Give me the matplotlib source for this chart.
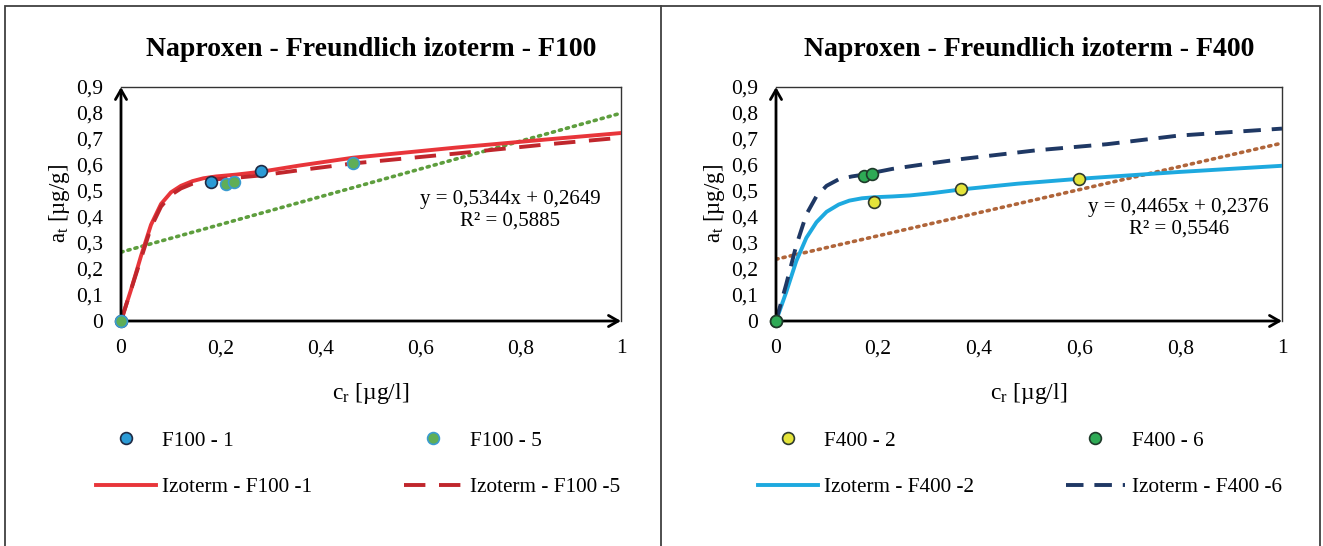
import numpy as np
import matplotlib
matplotlib.use("Agg")
import matplotlib.pyplot as plt
from matplotlib.lines import Line2D
from matplotlib.patches import Rectangle
from matplotlib.ticker import FuncFormatter

plt.rcParams['font.family'] = ['Liberation Serif', 'DejaVu Serif']
plt.rcParams['mathtext.fontset'] = 'custom'
plt.rcParams['mathtext.rm'] = 'Liberation Serif'
plt.rcParams['mathtext.it'] = 'Liberation Serif:italic'

# ---- data ----
# F100 measured points
f100_1_x = [0.0, 0.18, 0.28]
f100_1_y = [0.0, 0.535, 0.578]
f100_5_x = [0.0, 0.21, 0.225, 0.463]
f100_5_y = [0.0, 0.528, 0.534, 0.607]

# F100 isotherm curves
iso100_1_x = [0.0, 0.02, 0.04, 0.06, 0.08, 0.1, 0.12, 0.143, 0.165, 0.19, 0.23, 0.28, 0.357, 0.464, 0.67, 0.85, 1.0]
iso100_1_y = [0.0, 0.12, 0.25, 0.37, 0.45, 0.495, 0.52, 0.538, 0.549, 0.556, 0.563, 0.574, 0.598, 0.628, 0.667, 0.698, 0.723]
iso100_5_x = [0.0, 0.02, 0.04, 0.06, 0.08, 0.1, 0.12, 0.143, 0.165, 0.19, 0.23, 0.28, 0.357, 0.464, 0.67, 0.85, 1.0]
iso100_5_y = [0.0, 0.12, 0.24, 0.36, 0.44, 0.485, 0.51, 0.528, 0.538, 0.545, 0.551, 0.560, 0.580, 0.606, 0.644, 0.679, 0.705]

# F400 measured points
f400_2_x = [0.0, 0.193, 0.366, 0.599]
f400_2_y = [0.0, 0.457, 0.506, 0.547]
f400_6_x = [0.0, 0.173, 0.189]
f400_6_y = [0.0, 0.556, 0.564]

# F400 isotherm curves
iso400_2_x = [0.0, 0.02, 0.04, 0.06, 0.08, 0.1, 0.124, 0.145, 0.17, 0.194, 0.23, 0.265, 0.31, 0.366, 0.477, 0.6, 0.795, 1.0]
iso400_2_y = [0.0, 0.11, 0.23, 0.32, 0.38, 0.42, 0.448, 0.463, 0.472, 0.476, 0.479, 0.483, 0.492, 0.506, 0.528, 0.547, 0.573, 0.597]
iso400_6_x = [0.0, 0.02, 0.04, 0.06, 0.08, 0.1, 0.124, 0.15, 0.173, 0.23, 0.3, 0.371, 0.512, 0.654, 0.795, 1.0]
iso400_6_y = [0.0, 0.14, 0.29, 0.41, 0.48, 0.52, 0.545, 0.556, 0.563, 0.585, 0.605, 0.624, 0.656, 0.68, 0.713, 0.74]

# linear trendlines (slope, intercept, R2)
trend100 = (0.5344, 0.2649, 0.5885)
trend400 = (0.4465, 0.2376, 0.5546)

x_ticks = [0, 0.2, 0.4, 0.6, 0.8, 1.0]
y_ticks = [0, 0.1, 0.2, 0.3, 0.4, 0.5, 0.6, 0.7, 0.8, 0.9]

W, H = 1323, 546
fig = plt.figure(figsize=(W / 100, H / 100), dpi=100)


def comma(v, pos):
    return ('%g' % round(v, 2)).replace('.', ',')


def eq_text(tr):
    a, b, r2 = (str(v).replace('.', ',') for v in tr)
    return 'y = %sx + %s\nR² = %s' % (a, b, r2)


def make_axes(left_px, right_px, title):
    ax = fig.add_axes([left_px / W, (H - 321) / H, (right_px - left_px) / W, (321 - 87) / H])
    ax.set_xlim(0, 1)
    ax.set_ylim(0, 0.9)
    ax.set_xticks(x_ticks)
    ax.set_yticks(y_ticks)
    ax.xaxis.set_major_formatter(FuncFormatter(comma))
    ax.yaxis.set_major_formatter(FuncFormatter(comma))
    ax.tick_params(length=0, labelsize=15.5)
    ax.tick_params(axis='x', pad=13)
    ax.tick_params(axis='y', pad=13)
    for s in ['top', 'right']:
        ax.spines[s].set_color('#333333')
        ax.spines[s].set_linewidth(1.0)
    for s in ['left', 'bottom']:
        ax.spines[s].set_visible(False)
    arrow = dict(arrowstyle='->,head_length=0.7,head_width=0.4', lw=2.0,
                 color='black', shrinkA=0, shrinkB=0)
    ax.annotate('', xy=(0, 1), xytext=(0, 0), xycoords='axes fraction',
                arrowprops=arrow, annotation_clip=False, zorder=6)
    ax.annotate('', xy=(1, 0), xytext=(0, 0), xycoords='axes fraction',
                arrowprops=arrow, annotation_clip=False, zorder=6)
    cx = (left_px + right_px) / 2 / W
    fig.text(cx, 1 - 50 / H, title, ha='center', va='center',
             fontsize=20, fontweight='bold')
    fig.text(cx, 1 - 393 / H, r'c$_\mathrm{r}$ [µg/l]', ha='center', va='center', fontsize=17)
    fig.text((left_px - 61) / W, 1 - 204 / H, r'a$_\mathrm{t}$ [µg/g]', ha='center',
             va='center', rotation=90, fontsize=16.5)
    return ax


mk = dict(ls='none', marker='o', ms=8.5, mew=1.2, clip_on=False)
leg_kw = dict(loc='center', ncol=2, frameon=False, fontsize=15.3, handlelength=2.8,
              handletextpad=0.3, columnspacing=4.3, labelspacing=1.25)

# ---- left panel: F100 ----
ax1 = make_axes(121, 621, 'Naproxen - Freundlich izoterm - F100')
l1, = ax1.plot(iso100_1_x, iso100_1_y, color='#E8353A', lw=2.8, zorder=3)
l5, = ax1.plot(iso100_5_x, iso100_5_y, color='#C0262C', lw=2.8, dashes=(5.5, 3.5), zorder=3)
tx = np.array([0.0, 1.0])
ax1.plot(tx, trend100[0] * tx + trend100[1], color='#5E9E3E', lw=2.6,
         linestyle=(0, (0.6, 1.4)), dash_capstyle='round', zorder=2)
p1, = ax1.plot(f100_1_x, f100_1_y, mfc='#2B9BD6', mec='#1F2A44', zorder=7, **mk)
p5, = ax1.plot(f100_5_x, f100_5_y, mfc='#5FAE57', mec='#3A9BD0', zorder=8, **mk)
ax1.text(0.778, 0.425, eq_text(trend100), ha='center', va='center', fontsize=15,
         linespacing=1.2)

fig.legend([p1, l1, p5, l5], ['F100 - 1', 'Izoterm - F100 -1', 'F100 - 5', 'Izoterm - F100 -5'],
           bbox_to_anchor=(358 / W, 1 - 464 / H), **leg_kw)

# ---- right panel: F400 ----
ax2 = make_axes(776, 1282, 'Naproxen - Freundlich izoterm - F400')
c2, = ax2.plot(iso400_2_x, iso400_2_y, color='#1DA9DF', lw=2.8, zorder=3)
c6, = ax2.plot(iso400_6_x, iso400_6_y, color='#1F3864', lw=2.8, dashes=(4.5, 2.8), zorder=3)
ax2.plot(tx, trend400[0] * tx + trend400[1], color='#B0653A', lw=2.6,
         linestyle=(0, (0.6, 1.4)), dash_capstyle='round', zorder=2)
q2, = ax2.plot(f400_2_x, f400_2_y, mfc='#E4E43A', mec='#2E3A2E', zorder=7, **mk)
q6, = ax2.plot(f400_6_x, f400_6_y, mfc='#2EAA55', mec='#1E3A2A', zorder=8, **mk)
ax2.text(0.796, 0.394, eq_text(trend400), ha='center', va='center', fontsize=15,
         linespacing=1.2)

fig.legend([q2, c2, q6, c6], ['F400 - 2', 'Izoterm - F400 -2', 'F400 - 6', 'Izoterm - F400 -6'],
           bbox_to_anchor=(1020 / W, 1 - 464 / H), **leg_kw)

# ---- outer frame and divider ----
fig.patches.append(Rectangle((5 / W, -0.01), (1320 - 5) / W, 1 - 6 / H + 0.01,
                             transform=fig.transFigure, fill=False, ec='#404040', lw=1.3))
fig.add_artist(Line2D([661 / W, 661 / W], [0, 1 - 6 / H], transform=fig.transFigure,
                      color='#404040', lw=1.3))

fig.savefig('out.png', dpi=100)
